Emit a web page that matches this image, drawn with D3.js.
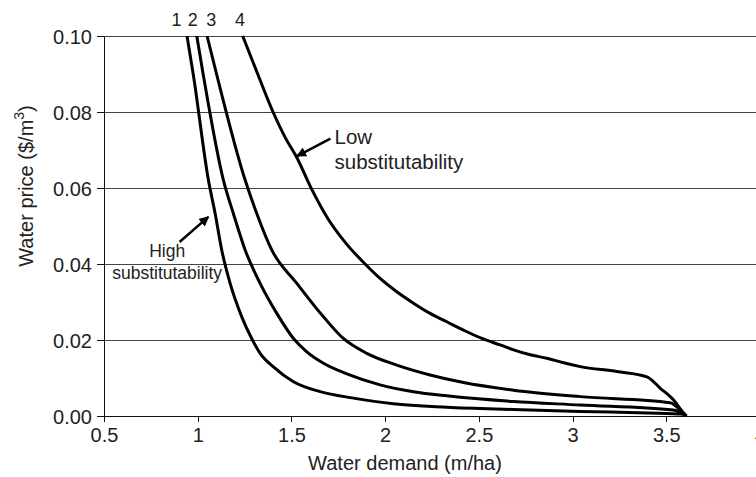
<!DOCTYPE html>
<html>
<head>
<meta charset="utf-8">
<script src="https://cdn.jsdelivr.net/npm/d3@7"></script>
<style>
  html, body { margin: 0; padding: 0; background: #fff; }
  svg { display: block; }
  text { font-family: "Liberation Sans", Arial, Helvetica, sans-serif; fill: #222; }
</style>
</head>
<body>
<svg id="chart" width="756" height="477"></svg>
<script>
// ---- data ----
const xTickValues = [0.5, 1, 1.5, 2, 2.5, 3, 3.5, 4];
const xTickLabels = ["0.5", "1", "1.5", "2", "2.5", "3", "3.5", "4"];
const yTickValues = [0, 0.02, 0.04, 0.06, 0.08, 0.10];
const yTickLabels = ["0.00", "0.02", "0.04", "0.06", "0.08", "0.10"];

const curve1 = [[0.943,0.100],[0.977,0.0897],[1.057,0.0621],[1.093,0.0533],[1.128,0.0437],[1.173,0.0349],[1.235,0.0261],[1.288,0.0204],[1.333,0.0165],[1.404,0.0129],[1.511,0.0090],[1.653,0.0064],[1.831,0.0047],[2.044,0.0032],[2.329,0.0023],[2.685,0.0017],[3.041,0.0012],[3.400,0.0008],[3.591,0.0005],[3.607,0.0]];
const curve2 = [[0.995,0.100],[1.030,0.0897],[1.137,0.0621],[1.190,0.0533],[1.253,0.0437],[1.333,0.0349],[1.422,0.0270],[1.511,0.0204],[1.582,0.0169],[1.671,0.0139],[1.796,0.0111],[1.973,0.0082],[2.151,0.0064],[2.329,0.0053],[2.685,0.0038],[3.041,0.0029],[3.537,0.0016],[3.607,0.0]];
const curve3 = [[1.050,0.100],[1.102,0.0897],[1.253,0.0621],[1.315,0.0533],[1.395,0.0437],[1.529,0.0349],[1.671,0.0261],[1.777,0.0204],[1.902,0.0165],[2.062,0.0134],[2.240,0.0108],[2.418,0.0088],[2.685,0.0068],[3.041,0.0051],[3.521,0.0035],[3.592,0.0007],[3.607,0.0]];
const curve4 = [[1.240,0.100],[1.320,0.0900],[1.402,0.0800],[1.470,0.0730],[1.530,0.0679],[1.600,0.0605],[1.700,0.0515],[1.790,0.0455],[1.893,0.0400],[1.973,0.0362],[2.062,0.0327],[2.151,0.0297],[2.240,0.0270],[2.329,0.0248],[2.418,0.0226],[2.516,0.0204],[2.614,0.0187],[2.685,0.0174],[2.774,0.0161],[2.863,0.0152],[2.952,0.0140],[3.041,0.0130],[3.237,0.0117],[3.397,0.0103],[3.468,0.0073],[3.539,0.0042],[3.592,0.0008],[3.607,0.0]];
const curves = [curve1, curve2, curve3, curve4];

const curveNames = ["1", "2", "3", "4"];
const curveNameX = [0.887, 0.973, 1.072, 1.225];

const annotations = [
  { lines: ["Low", "substitutability"], textX: 1.73, textY: 0.0715, lineGap: 25, size: 20.5, from: [1.708, 0.0730], to: [1.530, 0.0684], anchor: "start" },
  { lines: ["High", "substitutability"], textX: 0.837, textY: 0.0418, lineGap: 22, size: 17.5, from: [0.903, 0.0458], to: [1.057, 0.0524], anchor: "middle" }
];

// ---- layout ----
const svg = d3.select("#chart");
const x = d3.scaleLinear().domain([0.5, 4]).range([104, 760]);
const y = d3.scaleLinear().domain([0, 0.10]).range([416, 36]);
const FONT = '"Liberation Sans", Arial, Helvetica, sans-serif';

// gridlines
svg.append("g").selectAll("line").data(yTickValues.filter(v => v > 0)).join("line")
  .attr("x1", x(0.5)).attr("x2", x(4))
  .attr("y1", d => y(d)).attr("y2", d => y(d))
  .attr("stroke", "#444").attr("stroke-width", 1).attr("shape-rendering", "crispEdges");

// axes
const xAxis = d3.axisBottom(x).tickValues(xTickValues).tickFormat((d, i) => xTickLabels[i]).tickSize(6).tickSizeOuter(0).tickPadding(6);
const yAxis = d3.axisLeft(y).tickValues(yTickValues).tickFormat((d, i) => yTickLabels[i]).tickSize(7).tickSizeOuter(0).tickPadding(5);

const gx = svg.append("g").attr("transform", `translate(0,${y(0)})`).call(xAxis);
const gy = svg.append("g").attr("transform", `translate(${x(0.5)},0)`).call(yAxis);
[gx, gy].forEach(g => {
  g.selectAll("path").attr("stroke", "#111").attr("stroke-width", 1.3).attr("shape-rendering", "crispEdges");
  g.selectAll("line").attr("stroke", "#111").attr("shape-rendering", "crispEdges");
  g.selectAll("text").attr("font-size", 20).attr("fill", "#222").style("font-family", FONT);
});
gy.selectAll("text").attr("dy", "0.36em");

// curves
const line = d3.line().x(d => x(d[0])).y(d => y(d[1])).curve(d3.curveMonotoneX);
svg.append("g").selectAll("path").data(curves).join("path")
  .attr("d", line)
  .attr("fill", "none").attr("stroke", "#000").attr("stroke-width", 3)
  .attr("stroke-linejoin", "round").attr("stroke-linecap", "butt");

// curve numbers on top
svg.append("g").selectAll("text").data(curveNames).join("text")
  .attr("x", (d, i) => x(curveNameX[i])).attr("y", 26)
  .attr("text-anchor", "middle").attr("font-size", 18)
  .text(d => d);

// arrow marker
svg.append("defs").append("marker")
  .attr("id", "arrow").attr("viewBox", "0 0 10 10").attr("refX", 9).attr("refY", 5)
  .attr("markerWidth", 4).attr("markerHeight", 4).attr("markerUnits", "strokeWidth")
  .attr("orient", "auto")
  .append("path").attr("d", "M0,0 L10,5 L0,10 z").attr("fill", "#000");

const ann = svg.append("g");
annotations.forEach(a => {
  ann.append("line")
    .attr("x1", x(a.from[0])).attr("y1", y(a.from[1]))
    .attr("x2", x(a.to[0])).attr("y2", y(a.to[1]))
    .attr("stroke", "#000").attr("stroke-width", 2.5).attr("marker-end", "url(#arrow)");
  const t = ann.append("text").attr("x", x(a.textX)).attr("y", y(a.textY)).attr("font-size", a.size).attr("text-anchor", a.anchor);
  a.lines.forEach((l, i) => t.append("tspan").attr("x", x(a.textX)).attr("dy", i === 0 ? 0 : a.lineGap).text(l));
});

// axis titles
svg.append("text").attr("x", 405).attr("y", 470).attr("text-anchor", "middle").attr("font-size", 20)
  .text("Water demand (m/ha)");
const yt = svg.append("text").attr("transform", `translate(33,186) rotate(-90)`).attr("text-anchor", "middle").attr("font-size", 20);
yt.append("tspan").text("Water price ($/m");
yt.append("tspan").attr("font-size", 14).attr("dy", -9).text("3");
yt.append("tspan").attr("dy", 9).text(")");
</script>
</body>
</html>
